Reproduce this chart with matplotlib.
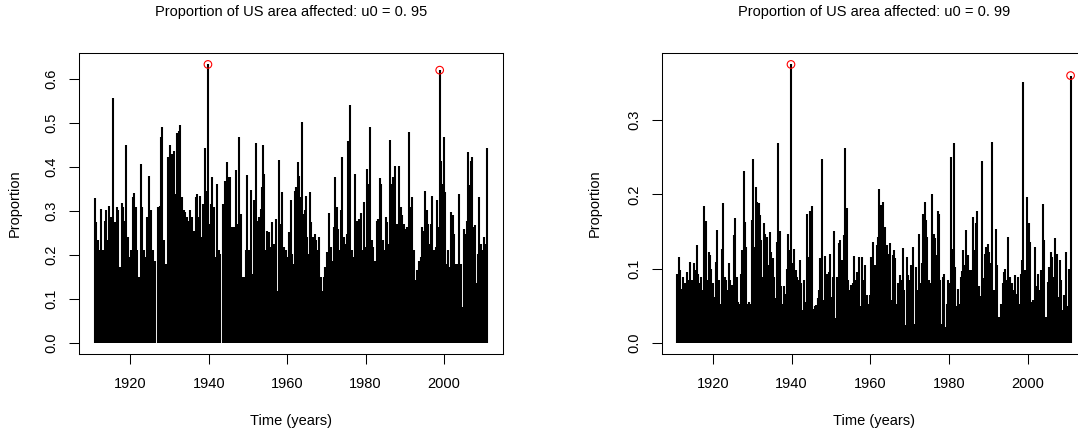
import matplotlib.pyplot as plt
import numpy as np

plt.rcParams['font.family'] = ['Liberation Sans', 'DejaVu Sans']

# spike data: (year, proportion) for u0 = 0.95
years_95 = [
    1910.91, 1911.25, 1911.76, 1912.02, 1912.36, 1912.53, 1912.95, 1913.63, 1913.89, 1914.31,
    1914.65, 1915.07, 1915.33, 1915.67, 1916.01, 1916.35, 1916.60, 1916.94, 1917.37, 1917.79,
    1918.22, 1918.56, 1918.90, 1919.32, 1919.83, 1920.25, 1920.68, 1921.02, 1921.44, 1921.78,
    1922.12, 1922.63, 1922.97, 1923.40, 1923.74, 1924.16, 1924.67, 1925.27, 1925.77, 1926.37,
    1926.96, 1927.22, 1927.47, 1927.81, 1928.15, 1928.58, 1928.92, 1929.34, 1929.68, 1930.11,
    1930.36, 1930.62, 1931.04, 1931.30, 1931.63, 1931.89, 1932.40, 1932.74, 1933.16, 1933.59,
    1934.01, 1934.44, 1934.86, 1935.29, 1935.80, 1936.22, 1936.65, 1936.99, 1937.41, 1937.75,
    1938.00, 1938.43, 1938.94, 1939.28, 1939.62, 1939.79, 1940.21, 1940.55, 1940.89, 1941.32,
    1941.66, 1942.08, 1942.51, 1942.93, 1943.52, 1944.03,
    1944.63, 1944.97, 1945.31, 1945.65, 1945.99, 1946.50, 1946.84, 1947.18, 1947.69, 1948.11,
    1948.54, 1949.04, 1949.38, 1949.81, 1950.23, 1950.66, 1951.08, 1951.59, 1951.93, 1952.36,
    1952.78, 1953.21, 1953.46, 1953.80, 1954.06, 1954.48, 1954.90, 1955.33, 1955.75, 1956.18,
    1956.60, 1957.03, 1957.45, 1957.88, 1958.30, 1958.73, 1959.15, 1959.58, 1960.00, 1960.42,
    1960.85, 1961.27, 1961.70, 1961.95, 1962.29, 1962.72, 1963.14, 1963.40, 1963.74, 1964.16,
    1964.50, 1964.76, 1965.10, 1965.52, 1965.86, 1966.20, 1966.54, 1967.05, 1967.39, 1967.73,
    1968.07, 1968.58, 1968.92, 1969.34, 1969.77, 1970.19, 1970.45, 1970.79, 1971.21, 1971.55,
    1971.97, 1972.31, 1972.65, 1972.99, 1973.25, 1973.67, 1974.10, 1974.52, 1974.86, 1975.20,
    1975.63, 1976.05, 1976.48, 1976.90, 1977.32, 1977.66,
    1977.92, 1978.26, 1978.77, 1979.28, 1979.62, 1980.04, 1980.47, 1980.81, 1981.15, 1981.57,
    1982.00, 1982.42, 1982.85, 1983.18, 1983.61, 1984.03, 1984.46, 1984.88, 1985.31, 1985.56,
    1985.90, 1986.24, 1986.67, 1987.09, 1987.43, 1987.94, 1988.45, 1988.96, 1989.39, 1989.81,
    1990.23, 1990.66, 1991.08, 1991.51, 1991.93, 1992.36, 1992.78, 1993.21, 1993.63, 1994.06,
    1994.39, 1994.73, 1995.07, 1995.58, 1995.92, 1996.26, 1996.69, 1997.03, 1997.45, 1997.88,
    1998.30, 1998.64, 1998.90, 1999.24, 1999.58, 1999.92, 2000.25, 2000.68, 2001.02, 2001.44,
    2001.78, 2002.21, 2002.55, 2002.97, 2003.40, 2003.82, 2004.25, 2004.67, 2005.10, 2005.52,
    2005.86, 2006.11, 2006.45, 2006.79, 2007.13, 2007.47, 2007.81, 2008.24, 2008.66, 2009.00,
    2009.43, 2009.85, 2010.19, 2010.70, 2011.04,
]
props_95 = [
    0.329, 0.274, 0.233, 0.210, 0.172, 0.305, 0.210, 0.278, 0.301, 0.233,
    0.312, 0.286, 0.210, 0.556, 0.274, 0.195, 0.308, 0.301, 0.172, 0.317,
    0.308, 0.278, 0.450, 0.240, 0.195, 0.210, 0.331, 0.341, 0.308, 0.210,
    0.150, 0.407, 0.308, 0.210, 0.195, 0.286, 0.380, 0.301, 0.210, 0.187,
    0.308, 0.142, 0.312, 0.469, 0.490, 0.233, 0.180, 0.180, 0.422, 0.450,
    0.278, 0.429, 0.437, 0.339, 0.316, 0.476, 0.482, 0.496, 0.331, 0.301,
    0.297, 0.286, 0.278, 0.301, 0.286, 0.255, 0.331, 0.339, 0.286, 0.335,
    0.240, 0.316, 0.444, 0.324, 0.346, 0.633, 0.271, 0.316, 0.376, 0.308,
    0.195, 0.361, 0.210, 0.203, 0.316, 0.367,
    0.412, 0.376, 0.376, 0.263, 0.263, 0.263, 0.392, 0.271, 0.469, 0.293,
    0.150, 0.150, 0.210, 0.382, 0.210, 0.348, 0.157, 0.324, 0.454, 0.278,
    0.286, 0.305, 0.354, 0.450, 0.384, 0.210, 0.255, 0.252, 0.218, 0.274,
    0.225, 0.282, 0.119, 0.416, 0.271, 0.342, 0.218, 0.210, 0.195, 0.252,
    0.324, 0.203, 0.180, 0.346, 0.354, 0.412, 0.380, 0.331, 0.503, 0.293,
    0.301, 0.333, 0.240, 0.203, 0.342, 0.274, 0.240, 0.248, 0.233, 0.210,
    0.240, 0.150, 0.119, 0.150, 0.172, 0.206, 0.203, 0.296, 0.218, 0.187,
    0.263, 0.376, 0.308, 0.259, 0.210, 0.301, 0.423, 0.240, 0.225, 0.248,
    0.458, 0.541, 0.210, 0.195, 0.384, 0.210,
    0.278, 0.282, 0.296, 0.210, 0.320, 0.218, 0.395, 0.361, 0.490, 0.233,
    0.218, 0.187, 0.278, 0.282, 0.375, 0.361, 0.233, 0.210, 0.286, 0.274,
    0.225, 0.461, 0.361, 0.376, 0.403, 0.271, 0.403, 0.308, 0.290, 0.271,
    0.259, 0.263, 0.480, 0.308, 0.331, 0.210, 0.142, 0.165, 0.187, 0.195,
    0.263, 0.255, 0.346, 0.301, 0.271, 0.225, 0.271, 0.335, 0.210, 0.218,
    0.324, 0.263, 0.620, 0.414, 0.361, 0.467, 0.342, 0.180, 0.210, 0.172,
    0.297, 0.290, 0.248, 0.180, 0.180, 0.339, 0.180, 0.082, 0.259, 0.248,
    0.278, 0.433, 0.358, 0.414, 0.422, 0.263, 0.267, 0.135, 0.203, 0.331,
    0.225, 0.210, 0.240, 0.225, 0.444,
]

# u0 = 0.99
years_99 = [
    1911.01, 1911.34, 1911.68, 1912.10, 1912.53, 1912.87, 1913.30, 1913.55, 1913.89, 1914.31,
    1914.73, 1915.16, 1915.58, 1916.00, 1916.34, 1916.68, 1917.10, 1917.44, 1917.87, 1918.21,
    1918.63, 1918.97, 1919.31, 1919.65, 1919.99, 1920.33, 1920.75, 1921.09, 1921.52, 1921.94,
    1922.37, 1922.70, 1923.04, 1923.38, 1923.72, 1924.06, 1924.48, 1924.91, 1925.25, 1925.59,
    1926.01, 1926.35, 1926.77, 1927.11, 1927.45, 1927.79, 1928.13, 1928.47, 1928.81, 1929.15,
    1929.49, 1929.83, 1930.16, 1930.50, 1930.84, 1931.27, 1931.61, 1931.95, 1932.28, 1932.62,
    1932.96, 1933.30, 1933.64, 1934.06, 1934.49, 1934.83, 1935.17, 1935.50, 1935.93, 1936.27,
    1936.61, 1936.95, 1937.28, 1937.62, 1938.05, 1938.47, 1938.81, 1939.15, 1939.49, 1939.83,
    1940.25, 1940.67, 1941.02, 1941.36, 1941.69, 1942.12, 1942.46, 1942.80, 1943.22, 1943.56,
    1943.90,
    1944.41, 1944.74, 1945.17, 1945.51, 1945.85, 1946.27, 1946.61, 1946.95, 1947.29, 1947.71,
    1948.14, 1948.56, 1948.99, 1949.41, 1949.84, 1950.17, 1950.51, 1950.85, 1951.19, 1951.61,
    1952.04, 1952.38, 1952.80, 1953.23, 1953.65, 1953.99, 1954.33, 1954.67, 1955.09, 1955.51,
    1955.85, 1956.28, 1956.62, 1957.04, 1957.46, 1957.89, 1958.31, 1958.65, 1959.08, 1959.50,
    1959.84, 1960.18, 1960.52, 1960.85, 1961.28, 1961.70, 1962.04, 1962.21, 1962.63, 1963.06,
    1963.40, 1963.74, 1964.16, 1964.50, 1964.92, 1965.26, 1965.60, 1965.94, 1966.28, 1966.62,
    1967.04, 1967.38, 1967.80, 1968.14, 1968.48, 1968.82, 1969.16, 1969.50, 1969.84, 1970.18,
    1970.52, 1970.86, 1971.20, 1971.54, 1971.88, 1972.21, 1972.55, 1972.98, 1973.40, 1973.74,
    1974.08, 1974.42, 1974.84, 1975.27, 1975.69, 1976.03, 1976.37, 1976.79, 1977.13, 1977.47,
    1977.64, 1977.98, 1978.32, 1978.66, 1979.00, 1979.33, 1979.76, 1980.10, 1980.44, 1980.78,
    1981.12, 1981.54, 1981.88, 1982.22, 1982.56, 1982.90, 1983.23, 1983.57, 1983.91, 1984.17,
    1984.51, 1984.85, 1985.19, 1985.53, 1985.87, 1986.12, 1986.46, 1986.80, 1987.13, 1987.47,
    1987.81, 1988.15, 1988.41, 1988.75, 1989.09, 1989.43, 1989.76, 1990.10, 1990.44, 1990.70,
    1990.95, 1991.37, 1991.80, 1992.14, 1992.56, 1992.90, 1993.24, 1993.58, 1993.92, 1994.25,
    1994.59, 1995.02, 1995.36, 1995.70, 1996.04, 1996.46, 1996.80, 1997.14, 1997.48, 1997.82,
    1998.15, 1998.49, 1998.83, 1999.17, 1999.51, 1999.85, 2000.19, 2000.53, 2000.95, 2001.37,
    2001.80, 2002.14, 2002.48, 2002.90, 2003.32, 2003.75, 2004.17, 2004.60, 2005.02, 2005.44,
    2005.78, 2006.12, 2006.46, 2006.89, 2007.23, 2007.65, 2007.99, 2008.33, 2008.67, 2009.01,
    2009.35, 2009.69, 2010.03, 2010.45, 2010.79,
]
props_99 = [
    0.093, 0.116, 0.098, 0.073, 0.089, 0.080, 0.053, 0.096, 0.084, 0.109,
    0.084, 0.107, 0.098, 0.132, 0.093, 0.080, 0.089, 0.071, 0.185, 0.164,
    0.084, 0.122, 0.119, 0.100, 0.080, 0.062, 0.109, 0.152, 0.084, 0.053,
    0.127, 0.188, 0.089, 0.084, 0.071, 0.107, 0.084, 0.078, 0.145, 0.168,
    0.089, 0.055, 0.053, 0.093, 0.125, 0.231, 0.163, 0.129, 0.053, 0.055,
    0.053, 0.165, 0.248, 0.129, 0.210, 0.190, 0.188, 0.172, 0.138, 0.089,
    0.161, 0.147, 0.143, 0.105, 0.149, 0.123, 0.114, 0.089, 0.060, 0.136,
    0.269, 0.150, 0.076, 0.053, 0.076, 0.066, 0.100, 0.147, 0.125, 0.375,
    0.107, 0.127, 0.098, 0.089, 0.084, 0.112, 0.080, 0.044, 0.084, 0.055,
    0.174,
    0.116, 0.177, 0.185, 0.046, 0.049, 0.051, 0.060, 0.071, 0.114, 0.248,
    0.058, 0.117, 0.093, 0.096, 0.120, 0.062, 0.089, 0.151, 0.033, 0.089,
    0.135, 0.138, 0.111, 0.145, 0.263, 0.181, 0.084, 0.071, 0.078, 0.080,
    0.117, 0.084, 0.096, 0.116, 0.049, 0.116, 0.084, 0.105, 0.064, 0.053,
    0.064, 0.116, 0.136, 0.080, 0.105, 0.132, 0.143, 0.207, 0.186, 0.190,
    0.143, 0.156, 0.132, 0.120, 0.134, 0.058, 0.119, 0.125, 0.114, 0.053,
    0.080, 0.092, 0.084, 0.128, 0.071, 0.024, 0.116, 0.091, 0.084, 0.105,
    0.089, 0.129, 0.026, 0.102, 0.071, 0.147, 0.080, 0.107, 0.174, 0.190,
    0.165, 0.143, 0.084, 0.080, 0.201, 0.147, 0.141, 0.118, 0.177, 0.174,
    0.084, 0.026, 0.089, 0.093, 0.022, 0.053, 0.084, 0.080, 0.250, 0.127,
    0.269, 0.102, 0.049, 0.073, 0.053, 0.089, 0.097, 0.125, 0.105, 0.152,
    0.084, 0.119, 0.098, 0.087, 0.098, 0.169, 0.125, 0.161, 0.178, 0.076,
    0.044, 0.063, 0.245, 0.087, 0.120, 0.129, 0.133, 0.123, 0.107, 0.053,
    0.270, 0.071, 0.154, 0.105, 0.035, 0.022, 0.053, 0.080, 0.096, 0.100,
    0.084, 0.143, 0.089, 0.071, 0.080, 0.071, 0.091, 0.066, 0.089, 0.053,
    0.093, 0.111, 0.351, 0.098, 0.080, 0.197, 0.161, 0.136, 0.055, 0.058,
    0.129, 0.076, 0.093, 0.071, 0.098, 0.187, 0.138, 0.035, 0.082, 0.102,
    0.123, 0.116, 0.089, 0.141, 0.120, 0.062, 0.111, 0.084, 0.044, 0.064,
    0.049, 0.123, 0.049, 0.100, 0.360,
]

titles = ["Proportion of US area affected: u0 = 0. 95",
          "Proportion of US area affected: u0 = 0. 99"]
yticks_95 = [0.0, 0.1, 0.2, 0.3, 0.4, 0.5, 0.6]
yticks_99 = [0.0, 0.1, 0.2, 0.3]
xticks = [1920, 1940, 1960, 1980, 2000]


def r_range(v):
    # R style axis range: data range + 4% each side
    lo, hi = min(v), max(v)
    pad = 0.04 * (hi - lo)
    return lo - pad, hi + pad


def panel(ax, years, props, yticks, title):
    years = np.array(years)
    props = np.array(props)
    ax.vlines(years, 0, props, colors='black', linewidth=1.5, capstyle='butt')
    top = np.argsort(props)[-2:]
    ax.scatter(years[top], props[top], s=30, facecolors='none',
               edgecolors='red', linewidths=0.8, zorder=3, clip_on=False)
    ax.set_xlim(r_range(years))
    ax.set_ylim(r_range(np.append(props, 0)))
    ax.set_xticks(xticks)
    ax.set_yticks(yticks)
    ax.set_yticklabels(["%.1f" % t for t in yticks], rotation=90, va='center')
    ax.tick_params(direction='out', length=7, width=0.75, labelsize=10.5)
    ax.tick_params(axis='x', pad=9.5)
    ax.tick_params(axis='y', pad=7.5)
    for s in ax.spines.values():
        s.set_linewidth(0.75)
        s.set_color('black')

    pos = ax.get_position()
    cx = (pos.x0 + pos.x1) / 2
    fig.text(cx, 1 - 12 / 433, title, ha='center', va='center', fontsize=10.5)
    fig.text(cx, 1 - 421 / 433, "Time (years)", ha='center', va='center', fontsize=10.5)


fig = plt.figure(figsize=(10.78, 4.33), dpi=100)
ax1 = fig.add_axes([79 / 1078, 0.18245, 424 / 1078, 0.69446])
ax2 = fig.add_axes([661.7 / 1078, 0.18245, 424.6 / 1078, 0.69446])

panel(ax1, years_95, props_95, yticks_95, titles[0])
panel(ax2, years_99, props_99, yticks_99, titles[1])

fig.text(15 / 1078, 0.5296, "Proportion", rotation=90, ha='center', va='center', fontsize=10.5)
fig.text(595 / 1078, 0.5296, "Proportion", rotation=90, ha='center', va='center', fontsize=10.5)

fig.savefig("out.png", dpi=100)
